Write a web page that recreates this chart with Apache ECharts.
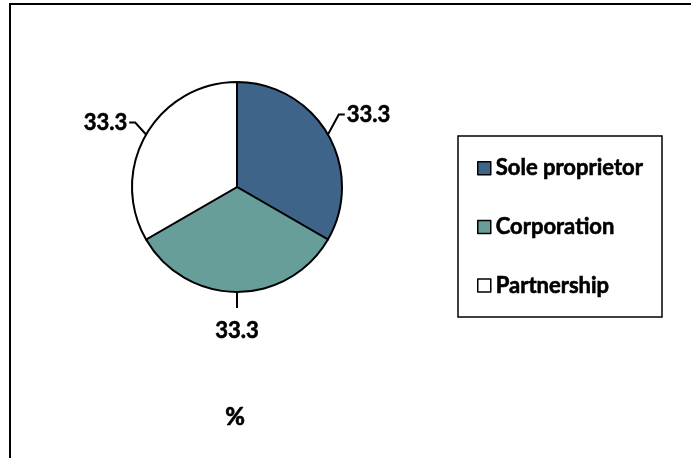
<!DOCTYPE html>
<html>
<head>
<meta charset="utf-8">
<script src="https://cdn.jsdelivr.net/npm/echarts@6/dist/echarts.min.js"></script>
<style>
html,body{margin:0;padding:0;background:#fff;}
#chart{width:691px;height:458px;}
</style>
</head>
<body>
<div id="chart"></div>
<script>
const categories = ['Sole proprietor', 'Corporation', 'Partnership'];
const values = [33.3, 33.3, 33.3];
const colors = ['#3F6489', '#679E9A', '#FFFFFF'];
const unitLabel = '%';

const FONT = 'Lato, "Liberation Sans", sans-serif';
const chart = echarts.init(document.getElementById('chart'), null, {renderer: 'canvas'});

const data = categories.map((c, i) => ({
  name: c,
  value: values[i],
  itemStyle: {color: colors[i]}
}));

chart.setOption({
  animation: false,
  backgroundColor: '#fff',
  graphic: [
    {type: 'rect', shape: {x: 10, y: 4, width: 720, height: 500},
     style: {fill: 'none', stroke: '#000', lineWidth: 2}, silent: true},
    {type: 'rect', shape: {x: 458, y: 136, width: 204, height: 181},
     style: {fill: 'none', stroke: '#000', lineWidth: 1.5}, silent: true},
    {type: 'text', x: 235, y: 417,
     style: {text: unitLabel, font: 'bold 24px ' + FONT, fill: '#000', stroke: '#000', lineWidth: 0.7, align: 'center', verticalAlign: 'middle'}}
  ],
  legend: {
    orient: 'vertical',
    left: 472,
    top: 152,
    padding: 5,
    itemWidth: 13,
    itemHeight: 13,
    itemGap: 36,
    itemTextGap: 7,
    icon: 'rect',
    data: categories,
    itemStyle: {borderColor: '#000', borderWidth: 1.5},
    textStyle: {fontFamily: FONT, fontWeight: 'bold', fontSize: 22, color: '#000', lineHeight: 22,
                textBorderColor: '#000', textBorderWidth: 0.6}
  },
  series: [{
    type: 'pie',
    center: [237, 187],
    radius: 105,
    startAngle: 90,
    clockwise: true,
    data: data,
    itemStyle: {borderColor: '#000', borderWidth: 2},
    emphasis: {disabled: true},
    label: {
      show: true,
      position: 'outside',
      formatter: p => p.value.toFixed(1),
      fontFamily: FONT,
      fontWeight: 'bold',
      fontSize: 22,
      color: '#000',
      textBorderColor: '#000',
      textBorderWidth: 0.6,
      distanceToLabelLine: 2
    },
    labelLine: {show: true, length: 16, length2: 6, lineStyle: {color: '#000', width: 2}},
    labelLayout: function (params) {
      const pts = params.labelLinePoints;
      if (!pts) return {};
      if (params.dataIndex === 1) {
        const p = [[pts[0][0], pts[0][1]], [pts[1][0], pts[1][1]], [pts[1][0], pts[1][1]]];
        return {x: pts[1][0], y: pts[1][1] + 12, align: 'center', verticalAlign: 'top', labelLinePoints: p};
      }
      if (params.dataIndex === 0) {
        const lift = 12, shift = -3;
        const p = [[pts[0][0], pts[0][1]], [pts[1][0] + shift, pts[1][1] - lift], [pts[2][0] + shift, pts[2][1] - lift]];
        return {dx: shift, dy: -lift, labelLinePoints: p};
      }
      const lift2 = 4, shift2 = 3;
      const p2 = [[pts[0][0], pts[0][1]], [pts[1][0] + shift2, pts[1][1] - lift2], [pts[2][0] + shift2, pts[2][1] - lift2]];
      return {dx: shift2, dy: -lift2, labelLinePoints: p2};
    }
  }]
});
</script>
</body>
</html>
